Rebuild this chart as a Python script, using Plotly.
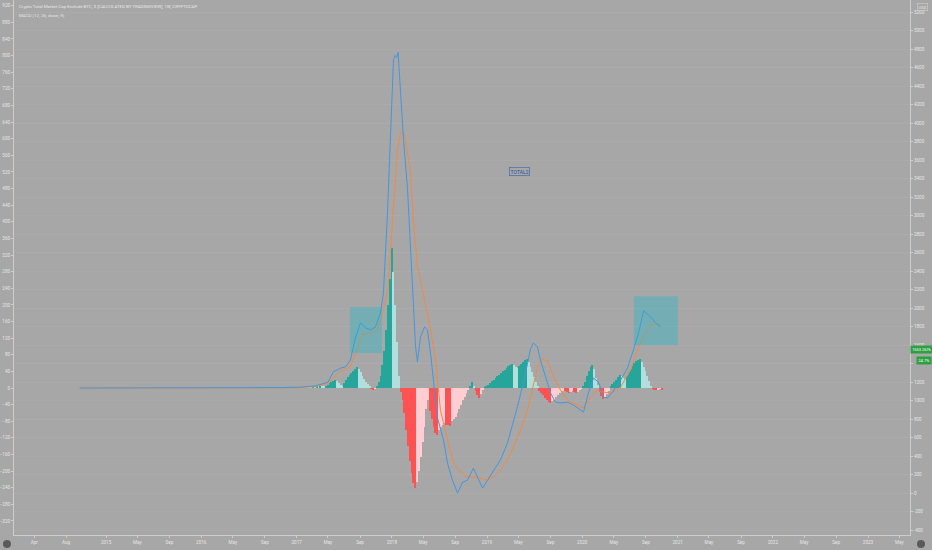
import plotly.graph_objects as go
import pandas as pd

# ---------------- data ----------------
start_date = "2014-09-22"          # first weekly bar

# MACD line (blue): week offsets and values
macd_weeks = [0, 40, 80, 110, 121, 129, 136, 139, 143, 145.6, 148.3, 151, 153.8, 156.5, 159.3, 162,
              164.8, 166.4, 168.6, 170.2, 171.9, 172.8, 173.6, 174.4, 175.1, 175.7, 177.4, 179.6, 181.8,
              184, 185, 186.7, 188.9, 190.5, 192.2, 193.8, 196, 199.3, 201.5, 204.2, 207, 209.7, 212.4,
              215.7, 218.5, 220.7, 223.4, 226.7, 230.5, 234.3, 237.6, 239.8, 241.5, 244.2, 247, 248.6,
              250.8, 252.4, 255.2, 257.9, 260.6, 263.4, 267.2, 270.5, 274.4, 276, 278.7, 281.5, 284.2,
              286.9, 289.1, 291.9, 296.3, 300.1, 303.4, 306.2, 308.9, 312.7, 315.5, 318.2]
macd_vals = [0, 0, 1, 1, 2, 5, 14, 39, 48, 51, 67, 120, 157, 145, 140, 147,
             181, 229, 422, 598, 790, 800, 795, 808, 760, 694, 598, 477, 277,
             99, 63, 123, 147, 140, 84, 19, -72, -125, -181, -222, -253, -227, -222,
             -193, -222, -241, -222, -198, -173, -133, -84, -45, -15, 35, 95, 108,
             99, 67, 27, -12, -34, -36, -34, -41, -53, -58, -12, 24, 14,
             -22, -24, -10, 19, 48, 92, 133, 186, 171, 157, 147]

# Signal line (orange)
signal_weeks = [0, 40, 80, 110, 121, 129, 136, 143, 148, 152, 155, 159, 163, 166.4, 169, 170.2, 171.8,
                174, 175.7, 176.8, 178.5, 181.2, 182.8, 185, 186.7, 189.5, 192.2, 195, 197.6, 201.5,
                204.8, 208.6, 212.4, 215.7, 219.6, 223.4, 226.7, 230.5, 234.3, 237.6, 241.5, 245.3,
                248.6, 250.8, 253.5, 256.3, 259.6, 263.4, 267.2, 272.7, 276, 279.8, 283.7, 287, 290.8,
                296.3, 301.7, 305.6, 308.9, 312.7, 315.5, 318.2]
signal_vals = [0, 0, 0, 1, 1, 3, 12, 41, 51, 92, 128, 133, 140, 188, 243, 325, 436,
               573, 614, 617, 598, 518, 405, 292, 260, 200, 140, 67, -53, -125,
               -181, -202, -214, -214, -217, -222, -214, -198, -173, -142, -101, -53,
               10, 50, 70, 65, 27, -5, -29, -41, -48, -22, -5, -10, -12,
               2, 43, 92, 123, 152, 154, 154]

# Histogram, one value per week starting at week offset hist_start_week
hist_start_week = 120
hist_vals = [0, 0, 1, 1, 1, 1,
             1, 1, 2, 2, 3, 3, 4, 4,
             3,
             5, 8, 11, 14, 17, 19,
             16, 12, 7, 3,
             12, 20, 26, 31, 37, 42, 46, 50,
             45, 38, 30, 22, 15, 9, 4,
             -2, -3, -1,
             5, 15, 30, 55, 90, 140, 200, 262, 337,
             280, 200, 110, 30,
             -10, -30, -60, -100, -140, -175, -205, -228, -241,
             -225, -200, -165, -130, -95, -50,
             -30, -55, -75, -95, -108, -113,
             -100, -95, -88, -85, -88, -90, -92, -80, -75, -70, -60, -50, -40, -30, -22, -12, -5,
             5, 14, 3,
             -8, -16, -24, -15, -5,
             2, 4, 8, 12, 16, 19, 24, 28, 31, 36, 40, 44, 47, 52, 56, 58,
             55, 50, 48,
             52, 58, 63, 67, 70,
             62, 50, 38, 26, 14, 4,
             -6, -12, -18, -24, -30, -34, -36,
             -32, -28, -22, -16, -12, -8, -6,
             -8, -10, -12, -10, -8, -10, -12, -9, -5, -2,
             5, 15, 28, 40, 50, 55,
             45, 25, 8,
             -10, -20, -26, -22, -14, -6,
             5, 10, 14, 20, 26, 31, 28, 24, 22, 30, 38, 46, 54, 60, 65, 68, 70,
             62, 50, 40, 28, 16, 6,
             -2, -3, -4, -3, -2, -3]

last_price = 1553.2676
last_change = "24.7%"

# highlight boxes (date range, MACD range)
boxes = [("2017-07-24", "2017-11-24", 84, 195),
         ("2020-07-17", "2021-01-02", 103, 221)]

# x-axis ticks
x_tick_dates = ["2014-04-01", "2014-08-01", "2015-01-01", "2015-05-01", "2015-09-01",
                "2016-01-01", "2016-05-01", "2016-09-01", "2017-01-01", "2017-05-01", "2017-09-01",
                "2018-01-01", "2018-05-01", "2018-09-01", "2019-01-01", "2019-05-01", "2019-09-01",
                "2020-01-01", "2020-05-01", "2020-09-01", "2021-01-01", "2021-05-01", "2021-09-01",
                "2022-01-01", "2022-05-01", "2022-09-01", "2023-01-01", "2023-05-01"]
x_tick_text = ["Apr", "Aug", "2015", "May", "Sep", "2016", "May", "Sep", "2017", "May", "Sep",
               "2018", "May", "Sep", "2019", "May", "Sep", "2020", "May", "Sep", "2021", "May", "Sep",
               "2022", "May", "Sep", "2023", "May"]
left_ticks = list(range(-320, 921, 40))
right_ticks = list(range(-400, 5201, 200))
# the 1400 price label is hidden behind the last-price tags in the reference
right_tick_text = ["" if v == 1400 else str(v) for v in right_ticks]

# ---------------- styling ----------------
BG = "#a7a7a7"
TXT = "#e6e6e6"
AX = "#cdcdcd"
GRID = "#ababab"
FONT = "Roboto"
GROW_ABOVE, FALL_ABOVE = "#26a69a", "#b2dfdb"
GROW_BELOW, FALL_BELOW = "#ffcdd2", "#ff5252"

t0 = pd.Timestamp(start_date)
def to_dates(weeks):
    return [t0 + pd.Timedelta(days=7 * w) for w in weeks]

hist_weeks = [hist_start_week + i for i in range(len(hist_vals))]
hist_colors = []
prev = 0
for v in hist_vals:
    if v >= 0:
        hist_colors.append(GROW_ABOVE if v > prev else FALL_ABOVE)
    else:
        hist_colors.append(GROW_BELOW if v > prev else FALL_BELOW)
    prev = v

fig = go.Figure()
fig.add_trace(go.Bar(x=to_dates(hist_weeks), y=hist_vals, marker=dict(color=hist_colors, line=dict(width=0)),
                     width=6 * 86400000, yaxis="y", showlegend=False, hoverinfo="skip"))
fig.add_trace(go.Scatter(x=to_dates(signal_weeks), y=signal_vals, mode="lines",
                         line=dict(color="#f08a45", width=1), yaxis="y", showlegend=False))
fig.add_trace(go.Scatter(x=to_dates(macd_weeks), y=macd_vals, mode="lines",
                         line=dict(color="#4496de", width=1), yaxis="y", showlegend=False))
# invisible price marker on the right scale (last price)
fig.add_trace(go.Scatter(x=to_dates([hist_weeks[-1]]), y=[last_price], mode="markers",
                         marker=dict(opacity=0), yaxis="y2", showlegend=False, hoverinfo="skip"))

shapes = []
for x0, x1, y0, y1 in boxes:
    shapes.append(dict(type="rect", xref="x", yref="y", x0=x0, x1=x1, y0=y0, y1=y1,
                       fillcolor="rgba(0,188,212,0.30)", line=dict(width=0), layer="above"))
# bottom corner logos
for cx0, cx1 in [(-0.0123, -0.0034), (1.0078, 1.0167)]:
    shapes.append(dict(type="circle", xref="paper", yref="paper", x0=cx0, x1=cx1,
                       y0=-0.0245, y1=-0.0095, fillcolor="#5a5a5a", line=dict(width=0)))

annotations = [
    dict(xref="paper", yref="paper", x=0.003, y=1, yshift=-2, xanchor="left", yanchor="top",
         text="Crypto Total Market Cap Exclude BTC, $ [CALCULATED BY TRADINGVIEW], 1W, CRYPTOCAP",
         showarrow=False, font=dict(family=FONT, size=4.4, color=TXT)),
    dict(xref="paper", yref="paper", x=0.003, y=1, yshift=-11, xanchor="left", yanchor="top",
         text="MACD (12, 26, close, 9)", showarrow=False, font=dict(family=FONT, size=4.4, color=TXT)),
    dict(xref="x", yref="y", x="2019-05-07", y=522, text="TOTAL2", showarrow=False,
         font=dict(family=FONT, size=5, color="#2b4f96"), bordercolor="#3a62b0", borderwidth=0.6,
         borderpad=1),
    dict(xref="paper", yref="y2", x=1.0, xshift=0, y=last_price, xanchor="left", yanchor="middle",
         text=f"{last_price:.4f}", showarrow=False, bgcolor="#2ea043",
         font=dict(family=FONT, size=3.9, color="#ffffff"), borderpad=1.2),
    dict(xref="paper", yref="y2", x=1.0, xshift=6, y=last_price, yshift=-11, xanchor="left",
         yanchor="middle", text=last_change, showarrow=False, bgcolor="#2ea043",
         font=dict(family=FONT, size=4.2, color="#ffffff"), borderpad=1.2),
    dict(xref="paper", yref="paper", x=1.0134, y=1, yshift=-3, xanchor="center", yanchor="top",
         text="USD", showarrow=False, font=dict(family=FONT, size=4, color=TXT),
         bordercolor=AX, borderwidth=0.6, borderpad=1),
]

fig.update_layout(
    width=932, height=550,
    margin=dict(l=14, r=22, t=0, b=15),
    paper_bgcolor=BG, plot_bgcolor=BG,
    bargap=0, showlegend=False,
    font=dict(family=FONT, size=4.6, color=TXT),
    shapes=shapes, annotations=annotations,
    xaxis=dict(type="date", range=["2014-01-13", "2023-06-11"], tickvals=x_tick_dates, ticktext=x_tick_text,
               showgrid=False, zeroline=False, showline=True, linecolor=AX, linewidth=1,
               ticks="outside", ticklen=2, tickcolor=AX, tickfont=dict(size=4.6, color=TXT)),
    yaxis=dict(range=[-353.7, 933.6], tickvals=left_ticks, showgrid=False, zeroline=False,
               showline=True, linecolor=AX, linewidth=1, ticks="outside", ticklen=2, tickcolor=AX,
               tickfont=dict(size=4.6, color=TXT), side="left"),
    yaxis2=dict(range=[-454, 5330], tickvals=right_ticks, ticktext=right_tick_text, overlaying="y",
                side="right", showgrid=True, gridcolor=GRID, gridwidth=1, zeroline=False, showline=True,
                linecolor=AX, linewidth=1, ticks="outside", ticklen=2, tickcolor=AX,
                tickfont=dict(size=4.6, color=TXT)),
)

fig.write_html("out.html", config={"displayModeBar": False},
               post_script="document.body.style.margin='0px';document.body.style.padding='0px';"
                           "document.body.style.overflow='hidden';")
